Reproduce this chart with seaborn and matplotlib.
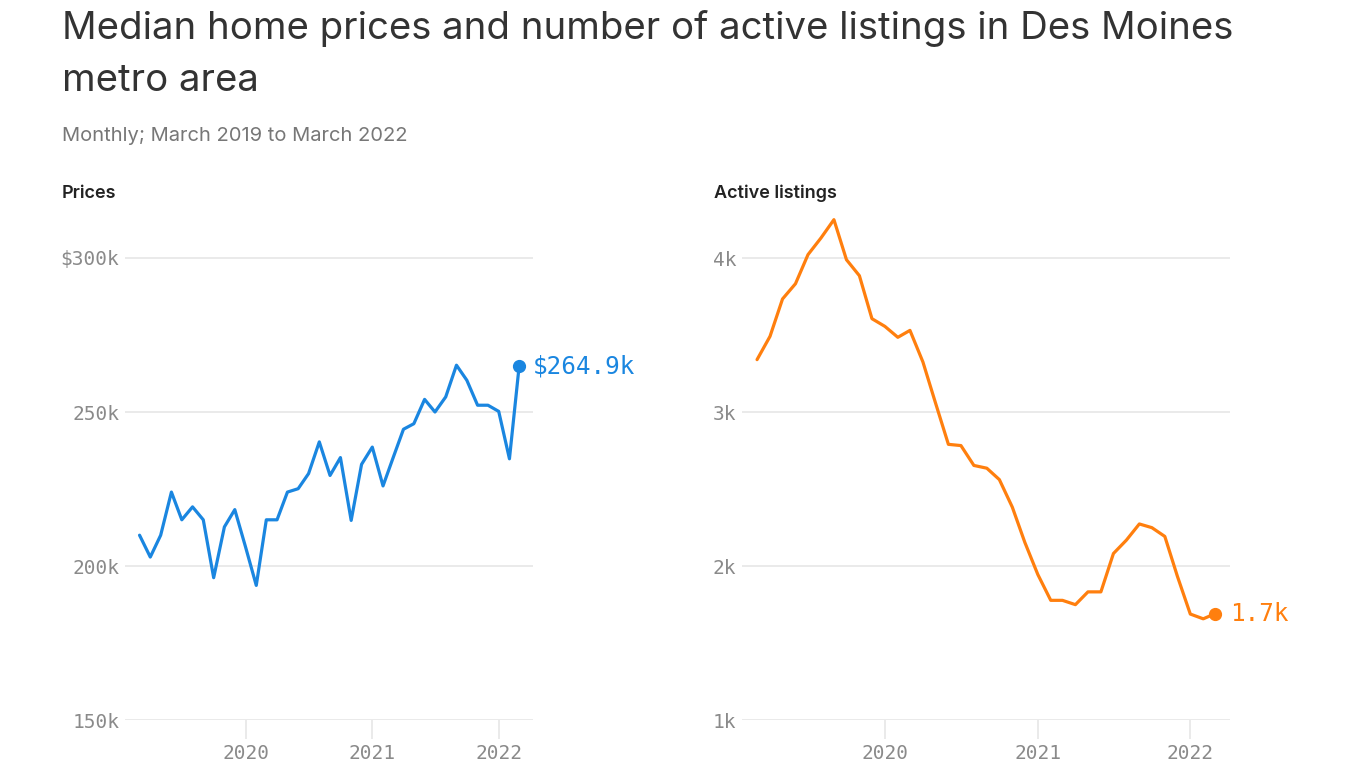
import numpy as np
import pandas as pd
import matplotlib
matplotlib.use("Agg")
import matplotlib.pyplot as plt
import matplotlib.dates as mdates
import seaborn as sns

# ---- data ----
months = pd.date_range("2019-03-01", "2022-03-01", freq="MS")
prices_k = [210.0, 202.9, 210.0, 224.0, 215.0, 219.2, 215.0, 196.2, 212.7, 218.3,
            206.2, 193.7, 215.0, 215.0, 224.0, 225.1, 230.0, 240.3, 229.4, 235.2,
            214.8, 233.0, 238.6, 226.0, 234.8, 244.4, 246.2, 254.1, 250.0, 254.9,
            265.2, 260.3, 252.2, 252.2, 250.2, 234.8, 264.9]
listings = [3340, 3491, 3734, 3833, 4022, 4130, 4249, 3989, 3885, 3606,
            3556, 3485, 3530, 3325, 3060, 2790, 2782, 2653, 2635, 2561,
            2382, 2153, 1945, 1777, 1777, 1749, 1832, 1832, 2081, 2168,
            2273, 2249, 2192, 1934, 1688, 1657, 1690]
price_ticks = [150, 200, 250, 300]
price_tick_labels = ["150k", "200k", "250k", "$300k"]
listing_ticks = [1000, 2000, 3000, 4000]
listing_tick_labels = ["1k", "2k", "3k", "4k"]
year_ticks = ["2020-01-01", "2021-01-01", "2022-01-01"]
year_labels = ["2020", "2021", "2022"]
price_label = "$264.9k"
listing_label = "1.7k"

df = pd.DataFrame({"month": months, "price": prices_k, "listings": listings})

BLUE = "#1a86e0"
ORANGE = "#ff7f0e"
GRID = "#e4e4e4"
TICK = "#8a8a8a"

sns.set_theme(style="white")
plt.rcParams["font.family"] = ["Inter", "DejaVu Sans"]

W, H = 1366, 768
fig = plt.figure(figsize=(W / 100, H / 100), dpi=100)
fig.patch.set_facecolor("white")

def px_axes(x0, x1, y0, y1):
    return fig.add_axes([x0 / W, 1 - y1 / H, (x1 - x0) / W, (y1 - y0) / H])

ax1 = px_axes(125, 533, 210, 720)
ax2 = px_axes(742, 1230, 210, 720)

sns.lineplot(data=df, x="month", y="price", ax=ax1, color=BLUE, linewidth=2.3)
sns.lineplot(data=df, x="month", y="listings", ax=ax2, color=ORANGE, linewidth=2.3)

ax1.plot(df["month"].iloc[-1], df["price"].iloc[-1], "o", color=BLUE, markersize=8.5, clip_on=False)
ax2.plot(df["month"].iloc[-1], df["listings"].iloc[-1], "o", color=ORANGE, markersize=8.5, clip_on=False)

ax1.set_ylim(150, 150 + 510 / 3.08)
ax2.set_ylim(1000, 1000 + 510 / 154 * 1000)
ax1.set_xlim(pd.Timestamp("2019-01-18"), pd.Timestamp("2022-04-10"))
ax2.set_xlim(pd.Timestamp("2019-01-24"), pd.Timestamp("2022-04-06"))

mono = "DejaVu Sans Mono"
for ax, yt, ytl in [(ax1, price_ticks, price_tick_labels), (ax2, listing_ticks, listing_tick_labels)]:
    ax.set_yticks(yt)
    ax.set_yticklabels(ytl, family=mono, fontsize=14, color=TICK)
    ax.set_xticks(pd.to_datetime(year_ticks))
    ax.set_xticklabels(year_labels, family=mono, fontsize=14, color=TICK)
    ax.tick_params(axis="y", left=False, length=0, pad=4)
    ax.tick_params(axis="x", bottom=True, length=14, width=1.1, color=GRID, pad=3, direction="out")
    ax.grid(axis="y", color=GRID, linewidth=1.1)
    ax.grid(axis="x", visible=False)
    for s in ax.spines.values():
        s.set_visible(False)
    ax.set_xlabel("")
    ax.set_ylabel("")
    ax.set_facecolor("none")

ax1.annotate(price_label, (df["month"].iloc[-1], df["price"].iloc[-1]), xytext=(10, 0),
             textcoords="offset points", va="center", ha="left", family=mono,
             fontsize=17.5, color=BLUE, annotation_clip=False)
ax2.annotate(listing_label, (df["month"].iloc[-1], df["listings"].iloc[-1]), xytext=(11, 0),
             textcoords="offset points", va="center", ha="left", family=mono,
             fontsize=17.5, color=ORANGE, annotation_clip=False)

fig.text(62 / W, 1 - 29 / H, "Median home prices and number of active listings in Des Moines",
         fontsize=27.6, color="#333333", va="center", ha="left")
fig.text(62 / W, 1 - 81 / H, "metro area", fontsize=27.6, color="#333333", va="center", ha="left")
fig.text(62 / W, 1 - 136 / H, "Monthly; March 2019 to March 2022", fontsize=14.5,
         color="#777777", va="center", ha="left")
fig.text(62 / W, 1 - 193 / H, "Prices", fontsize=13, fontweight="semibold",
         color="#222222", va="center", ha="left")
fig.text(714 / W, 1 - 193 / H, "Active listings", fontsize=13, fontweight="semibold",
         color="#222222", va="center", ha="left")

fig.savefig("out.png", dpi=100, facecolor="white")
